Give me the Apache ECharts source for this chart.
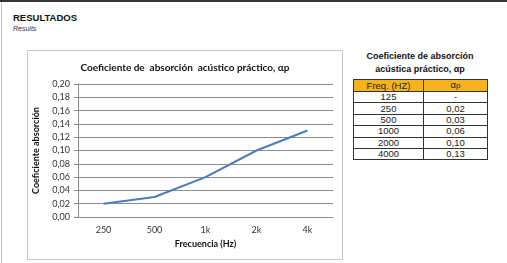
<!DOCTYPE html>
<html>
<head>
<meta charset="utf-8">
<script src="https://cdn.jsdelivr.net/npm/echarts@6/dist/echarts.min.js"></script>
<style>
  html, body { margin: 0; padding: 0; background: #fff; }
  body { width: 507px; height: 263px; position: relative; overflow: hidden; font-family: "Liberation Sans", Arial, sans-serif; }
  #topline { position: absolute; left: 0; top: 0; width: 507px; height: 2px; background: #333; }
  #leftline { position: absolute; left: 1px; top: 2px; width: 1px; height: 261px; background: #c4c4c4; }
  #head { position: absolute; left: 13px; top: 12px; font-size: 9.5px; font-weight: bold; color: #111; }
  #sub { position: absolute; left: 13px; top: 25px; font-size: 7px; font-style: italic; color: #333; }
  #chartBox { position: absolute; left: 27px; top: 50px; width: 314px; height: 208px; border: 1px solid #c8c8c8; }
  #tblTitle { position: absolute; left: 345px; top: 50px; width: 150px; text-align: center; font-size: 9px; font-weight: bold; line-height: 13px; color: #111; }
  table { position: absolute; left: 353px; top: 79px; border-collapse: collapse; font-family: "Liberation Sans", Arial, sans-serif; font-size: 9.5px; color: #222; }
  td, th { border: 1px solid #333; padding: 0; height: 10.4px; line-height: 10px; text-align: center; font-weight: normal; }
  th { background: #f5b41e; height: 11px; }
  td.c1, th.c1 { width: 69px; }
  td.c2, th.c2 { width: 63px; }
</style>
</head>
<body>
<div id="topline"></div>
<div id="leftline"></div>
<div id="head">RESULTADOS</div>
<div id="sub">Results</div>
<div id="chartBox"></div>
<div id="tblTitle">Coeficiente de absorción<br>acústica práctico, αp</div>
<table id="tbl"></table>
<script>
var categories = ['250', '500', '1k', '2k', '4k'];
var absorption = [0.02, 0.03, 0.06, 0.10, 0.13];
var tableFreqs = ['125', '250', '500', '1000', '2000', '4000'];
var tableValues = ['-', '0,02', '0,03', '0,06', '0,10', '0,13'];

var tbl = document.getElementById('tbl');
var html = '<tr><th class="c1">Freq. (HZ)</th><th class="c2">α<span style="font-size:8px">p</span></th></tr>';
for (var i = 0; i < tableFreqs.length; i++) {
  html += '<tr><td class="c1">' + tableFreqs[i] + '</td><td class="c2">' + tableValues[i] + '</td></tr>';
}
tbl.innerHTML = html;

var option = {
  animation: false,
  title: {
    text: 'Coeficiente de  absorción  acústico práctico, αp',
    left: 'center',
    top: 7,
    textStyle: { fontFamily: 'Lato', fontSize: 10, fontWeight: 'bold', color: '#111' }
  },
  grid: { left: 50, top: 33, right: 9, bottom: 42, containLabel: false, outerBoundsMode: 'none' },
  xAxis: {
    type: 'category',
    data: categories,
    boundaryGap: true,
    name: 'Frecuencia (Hz)',
    nameLocation: 'middle',
    nameGap: 22,
    nameTextStyle: { fontFamily: 'Lato', fontSize: 9, fontWeight: 'bold', color: '#111' },
    axisLine: { lineStyle: { color: '#8c8c8c' } },
    axisTick: { show: false },
    axisLabel: { fontFamily: 'Lato', fontSize: 9, color: '#333', margin: 9 }
  },
  yAxis: {
    type: 'value',
    min: 0,
    max: 0.2,
    interval: 0.02,
    name: 'Coeficiente absorción',
    nameLocation: 'middle',
    nameGap: 37,
    nameTextStyle: { fontFamily: 'Lato', fontSize: 9, fontWeight: 'bold', color: '#111' },
    axisLine: { show: true, lineStyle: { color: '#8c8c8c' } },
    axisTick: { show: true, length: 4, lineStyle: { color: '#8c8c8c' } },
    splitLine: { lineStyle: { color: '#8c8c8c' } },
    axisLabel: {
      fontFamily: 'Lato', fontSize: 9, color: '#333', margin: 8,
      formatter: function (v) { return v.toFixed(2).replace('.', ','); }
    }
  },
  series: [{
    type: 'line',
    data: absorption,
    symbol: 'none',
    lineStyle: { color: '#4a7ebb', width: 2 }
  }]
};

var myChart = echarts.init(document.getElementById('chartBox'));
myChart.setOption(option);
</script>
</body>
</html>
